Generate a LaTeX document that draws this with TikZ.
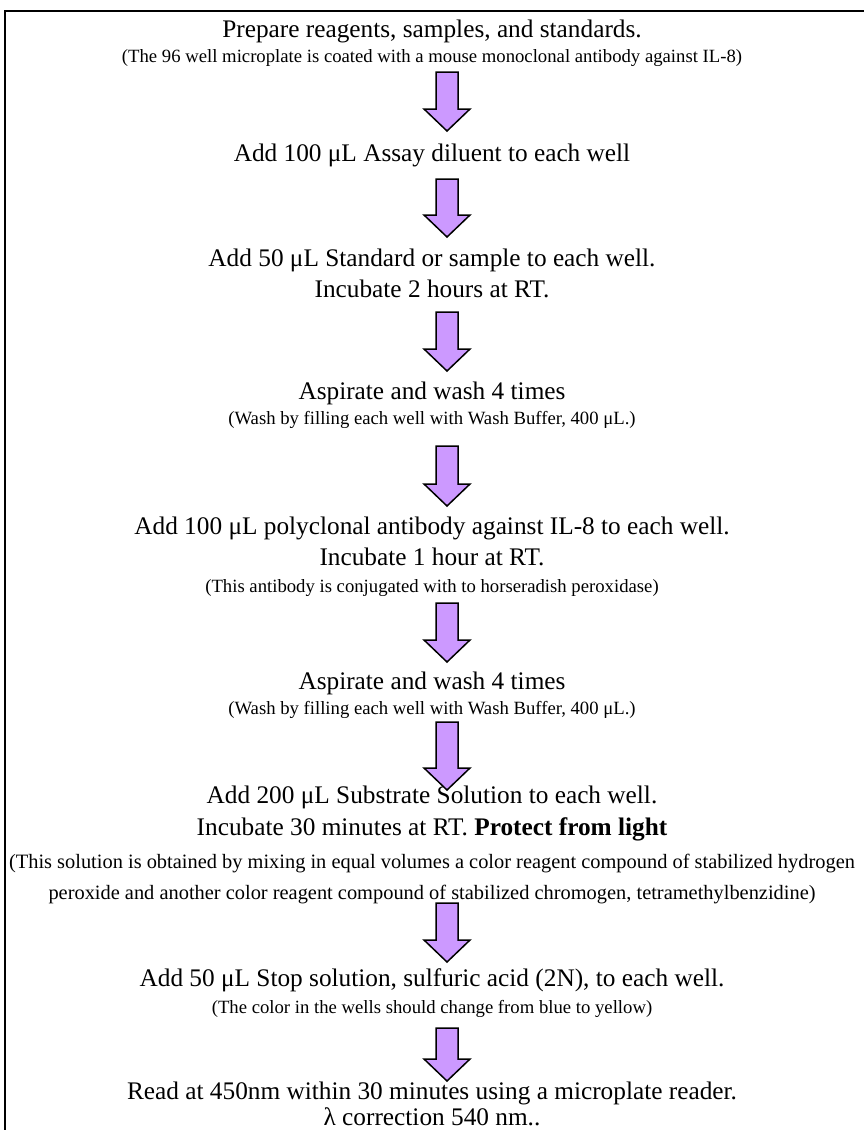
\documentclass[tikz,border=0pt]{standalone}
\usepackage{fontspec}
\setmainfont{Liberation Serif}
\usetikzlibrary{calc}
\definecolor{lavender}{RGB}{204,153,255}

\begin{document}
\begin{tikzpicture}[x=1pt,y=1pt,
    mainline/.style={inner sep=0pt,text height=0.7em,text depth=0.22em,font=\fontsize{25.3}{30}\selectfont},
    noteline/.style={mainline,font=\fontsize{18.7}{22}\selectfont},
    longnote/.style={mainline,font=\fontsize{20.4}{24}\selectfont},
    fatarrow/.style={draw=black,line width=1.5pt,fill=lavender,line join=miter,
        to path={($(\tikztostart)+(-11,0)$) -- ($(\tikztotarget)+(-11,22)$)
        -- ($(\tikztotarget)+(-23,22)$) -- (\tikztotarget) -- ($(\tikztotarget)+(23,22)$)
        -- ($(\tikztotarget)+(11,22)$) -- ($(\tikztostart)+(11,0)$) -- cycle}}]
    \useasboundingbox (0,0) rectangle (864,-1130);
    \clip (0,0) rectangle (864,-1130);
    \draw [line width=2.5pt] (5,-1140) to (5,-11) to (880,-11);

    \node [mainline] (prep) at (432,-35) {Prepare reagents, samples, and standards.};
    \node [noteline] (prepnote) at (432,-60) {(The 96 well microplate is coated with a mouse monoclonal antibody against IL-8)};
    \node [mainline] (diluent) at (432,-159) {Add 100 μL Assay diluent to each well};
    \node [mainline] (sample) at (432,-264) {Add 50 μL Standard or sample to each well.};
    \node [mainline] (incuba) at (432,-295) {Incubate 2 hours at RT.};
    \node [mainline] (washa) at (432,-397) {Aspirate and wash 4 times};
    \node [noteline] (washanote) at (432,-422) {(Wash by filling each well with Wash Buffer, 400 μL.)};
    \node [mainline] (antibody) at (432,-532) {Add 100 μL polyclonal antibody against IL-8 to each well.};
    \node [mainline] (incubb) at (432,-563) {Incubate 1 hour at RT.};
    \node [noteline] (antinote) at (432,-590) {(This antibody is conjugated with to horseradish peroxidase)};
    \node [mainline] (washb) at (432,-687) {Aspirate and wash 4 times};
    \node [noteline] (washbnote) at (432,-712) {(Wash by filling each well with Wash Buffer, 400 μL.)};
    \node [mainline] (substrate) at (432,-801) {Add 200 μL Substrate Solution to each well.};
    \node [mainline] (incubc) at (432,-833) {Incubate 30 minutes at RT. \textbf{Protect from light}};
    \node [longnote] (subnotea) at (432,-866) {(This solution is obtained by mixing in equal volumes a color reagent compound of stabilized hydrogen};
    \node [longnote] (subnoteb) at (432,-897) {peroxide and another color reagent compound of stabilized chromogen, tetramethylbenzidine)};
    \node [mainline] (stop) at (432,-984) {Add 50 μL Stop solution, sulfuric acid (2N), to each well.};
    \node [noteline] (stopnote) at (432,-1011) {(The color in the wells should change from blue to yellow)};
    \node [mainline] (read) at (432,-1097) {Read at 450nm within 30 minutes using a microplate reader.};
    \node [mainline] (lambda) at (432,-1123) {λ correction 540 nm..};

    \foreach \ya/\yb [count=\i] in {72/131,179/237,312/371,446/506,603/662,722/790,903/962,1028/1081} {
        \coordinate (tail\i) at (447,-\ya);
        \coordinate (tip\i) at (447,-\yb);
        \draw [fatarrow] (tail\i) to (tip\i);
    }
\end{tikzpicture}
\end{document}
